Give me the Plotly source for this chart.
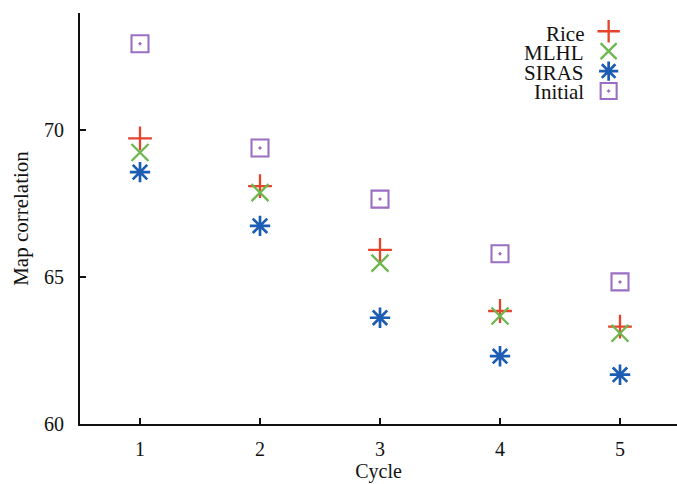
import plotly.graph_objects as go

cycles = [1, 2, 3, 4, 5]
rice = [69.73, 68.1, 65.93, 63.85, 63.32]
mlhl = [69.25, 67.88, 65.48, 63.68, 63.09]
siras = [68.58, 66.75, 63.62, 62.31, 61.68]
initial = [72.95, 69.40, 67.66, 65.80, 64.84]

series = [
    ("Rice", rice, "cross-thin", "#e5432b", 17, 2.3),
    ("MLHL", mlhl, "x-thin", "#6db74f", 17, 2.3),
    ("SIRAS", siras, "asterisk", "#1c5db3", 17, 2.7),
    ("Initial", initial, "square-open-dot", "#9a6fc3", 17, 2.1),
]

font_family = "Liberation Serif, Times New Roman, serif"

fig = go.Figure()
for name, vals, sym, col, size, lw in series:
    fig.add_trace(go.Scatter(
        x=cycles, y=vals, mode="markers", name="",
        hovertext=name,
        marker=dict(symbol=sym, size=size, color=col,
                    line=dict(color=col, width=lw)),
    ))

# legend labels placed to the left of legend symbols
legend_top = 0.949
row = 0.0472
for i, (name, *_rest) in enumerate(series):
    fig.add_annotation(
        x=0.8476, y=legend_top - i * row, xref="paper", yref="paper",
        text=name, showarrow=False, xanchor="right", yanchor="middle",
        font=dict(family=font_family, size=21, color="#111"),
    )

fig.update_layout(
    width=677, height=484,
    margin=dict(l=80, r=0, t=13, b=60, autoexpand=False),
    paper_bgcolor="white", plot_bgcolor="white",
    font=dict(family=font_family, size=20, color="#111"),
    showlegend=True,
    legend=dict(x=0.852, y=0.992, xanchor="left", yanchor="top",
                bgcolor="rgba(0,0,0,0)", font=dict(size=13),
                itemwidth=30, tracegroupgap=0),
    xaxis=dict(range=[0.5, 5.475], tickvals=cycles, ticktext=["1", "2", "3", "4", "5"],
               showline=True, linecolor="#111", linewidth=2, automargin=False,
               ticks="inside", ticklen=6, tickwidth=2, tickcolor="#111",
               showgrid=False, zeroline=False, ticklabelstandoff=6,
               title=dict(text="Cycle", standoff=4, font=dict(size=20))),
    yaxis=dict(range=[60, 74], tickvals=[60, 65, 70],
               showline=True, linecolor="#111", linewidth=2, automargin=False,
               ticks="inside", ticklen=6, tickwidth=2, tickcolor="#111",
               showgrid=False, zeroline=False, ticklabelstandoff=10,
               title=dict(text="Map correlation", standoff=10, font=dict(size=21))),
)

fig.write_html(
    "out.html",
    config={"displayModeBar": False},
    post_script="document.body.style.margin='0';document.body.style.overflow='hidden';",
)
